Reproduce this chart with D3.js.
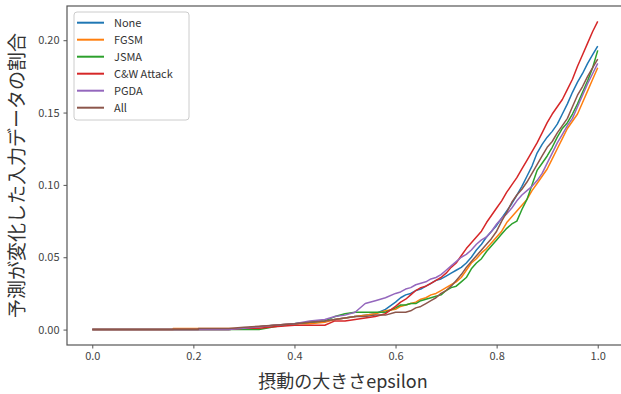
<!DOCTYPE html>
<html>
<head>
<meta charset="utf-8">
<script src="https://cdn.jsdelivr.net/npm/d3@7"></script>
<style>
  body { margin: 0; background: #fff; }
  svg { display: block; }
  text { font-family: "Noto Sans CJK JP", "Noto Sans", sans-serif; }
</style>
</head>
<body>
<svg id="chart" width="621" height="394"></svg>
<script>
// epsilon grid shared by all series
const epsilon = [0, 0.16, 0.16, 0.21, 0.21, 0.27, 0.30, 0.33, 0.36, 0.40, 0.43, 0.46, 0.48, 0.50, 0.52, 0.54, 0.56, 0.58,
  0.60, 0.61, 0.62, 0.63, 0.64, 0.65, 0.66, 0.67, 0.68, 0.69,
  0.70, 0.71, 0.72, 0.73, 0.74, 0.75, 0.76, 0.77, 0.78, 0.79,
  0.80, 0.81, 0.82, 0.83, 0.84, 0.85, 0.86, 0.87, 0.88, 0.89,
  0.90, 0.91, 0.92, 0.93, 0.94, 0.95, 0.96, 0.97, 0.98, 0.99, 1.00];

const seriesNames = ['None', 'FGSM', 'JSMA', 'C&W Attack', 'PGDA', 'All'];
const seriesColors = ['#1f77b4', '#ff7f0e', '#2ca02c', '#d62728', '#9467bd', '#8c564b'];

const noneValues = [0, 0, 0, 0, 0, 0, 0.001, 0.002, 0.003, 0.004, 0.005, 0.006, 0.007, 0.008, 0.009, 0.010, 0.011, 0.014,
  0.019, 0.022, 0.024, 0.025, 0.027, 0.028, 0.030, 0.032, 0.034, 0.035,
  0.037, 0.039, 0.041, 0.043, 0.046, 0.050, 0.055, 0.059, 0.064, 0.068,
  0.072, 0.077, 0.082, 0.087, 0.093, 0.099, 0.106, 0.113, 0.122, 0.128,
  0.133, 0.137, 0.142, 0.149, 0.156, 0.164, 0.171, 0.177, 0.184, 0.190, 0.196];

const fgsmValues = [0, 0, 0.0007, 0.0007, 0.0007, 0.0007, 0.001, 0.002, 0.003, 0.004, 0.004, 0.005, 0.007, 0.008, 0.009, 0.010, 0.011, 0.013,
  0.014, 0.016, 0.017, 0.018, 0.019, 0.021, 0.022, 0.024, 0.025, 0.027,
  0.029, 0.031, 0.033, 0.036, 0.041, 0.046, 0.049, 0.053, 0.056, 0.060,
  0.064, 0.068, 0.074, 0.078, 0.082, 0.086, 0.090, 0.096, 0.101, 0.106,
  0.111, 0.118, 0.125, 0.132, 0.139, 0.144, 0.149, 0.157, 0.165, 0.173, 0.181];

const jsmaValues = [0, 0, 0, 0, 0, 0, 0, 0, 0.002, 0.004, 0.005, 0.006, 0.009, 0.011, 0.012, 0.012, 0.012, 0.012,
  0.015, 0.017, 0.017, 0.018, 0.018, 0.020, 0.021, 0.022, 0.023, 0.024,
  0.027, 0.029, 0.030, 0.033, 0.036, 0.042, 0.046, 0.049, 0.054, 0.058,
  0.062, 0.066, 0.070, 0.073, 0.075, 0.083, 0.090, 0.100, 0.110, 0.115,
  0.120, 0.126, 0.133, 0.139, 0.143, 0.149, 0.156, 0.164, 0.172, 0.181, 0.193];

const cwValues = [0, 0, 0, 0, 0, 0, 0.001, 0.001, 0.002, 0.003, 0.003, 0.003, 0.006, 0.006, 0.007, 0.008, 0.009, 0.011,
  0.016, 0.019, 0.021, 0.024, 0.027, 0.029, 0.030, 0.032, 0.034, 0.036,
  0.039, 0.043, 0.046, 0.051, 0.056, 0.060, 0.064, 0.068, 0.074, 0.079,
  0.084, 0.089, 0.095, 0.100, 0.105, 0.111, 0.117, 0.123, 0.129, 0.136,
  0.143, 0.149, 0.154, 0.159, 0.166, 0.173, 0.182, 0.190, 0.198, 0.206, 0.213];

const pgdaValues = [0, 0, 0, 0, 0, 0, 0.001, 0.002, 0.003, 0.004, 0.006, 0.007, 0.009, 0.010, 0.012, 0.018, 0.020, 0.022,
  0.025, 0.026, 0.028, 0.029, 0.031, 0.032, 0.033, 0.035, 0.036, 0.038,
  0.041, 0.044, 0.047, 0.050, 0.052, 0.055, 0.059, 0.062, 0.064, 0.068,
  0.073, 0.077, 0.080, 0.084, 0.089, 0.093, 0.096, 0.099, 0.103, 0.108,
  0.115, 0.122, 0.129, 0.135, 0.141, 0.146, 0.154, 0.162, 0.170, 0.177, 0.184];

const allValues = [0, 0, 0, 0, 0.0007, 0.0007, 0.0016, 0.0023, 0.003, 0.004, 0.005, 0.006, 0.007, 0.008, 0.009, 0.009, 0.010, 0.010,
  0.012, 0.012, 0.012, 0.013, 0.015, 0.016, 0.018, 0.020, 0.022, 0.025,
  0.027, 0.030, 0.034, 0.038, 0.043, 0.047, 0.051, 0.055, 0.059, 0.063,
  0.068, 0.075, 0.081, 0.088, 0.093, 0.097, 0.102, 0.108, 0.114, 0.120,
  0.126, 0.130, 0.136, 0.141, 0.146, 0.154, 0.162, 0.168, 0.175, 0.181, 0.187];

const xTicks = [0.0, 0.2, 0.4, 0.6, 0.8, 1.0];
const yTicks = [0.00, 0.05, 0.10, 0.15, 0.20];
const xLabel = '摂動の大きさepsilon';
const yLabel = '予測が変化した入力データの割合';

const seriesValues = [noneValues, fgsmValues, jsmaValues, cwValues, pgdaValues, allValues];

const margin = { top: 6, left: 67, bottom: 345, right: 623 };
const svg = d3.select('#chart');

const yMax = d3.max(seriesValues, (s) => d3.max(s));
const yPad = 0.05 * yMax;
const xPad = 0.05 * (d3.max(epsilon) - d3.min(epsilon));

const xScale = d3.scaleLinear()
  .domain([d3.min(epsilon) - xPad, d3.max(epsilon) + xPad])
  .range([margin.left, margin.right]);
const yScale = d3.scaleLinear()
  .domain([-yPad, yMax + yPad])
  .range([margin.bottom, margin.top]);

const axisColor = '#555';
const tickTextColor = '#444';

// lines
const line = d3.line()
  .x((d) => xScale(d[0]))
  .y((d) => yScale(d[1]));

const plot = svg.append('g');
seriesValues.forEach((vals, i) => {
  plot.append('path')
    .datum(epsilon.map((e, j) => [e, vals[j]]))
    .attr('fill', 'none')
    .attr('stroke', seriesColors[i])
    .attr('stroke-width', 1.5)
    .attr('stroke-linejoin', 'round')
    .attr('d', line);
});

// axes
const xAxis = d3.axisBottom(xScale).tickValues(xTicks).tickFormat(d3.format('.1f'))
  .tickSizeInner(3.5).tickSizeOuter(0).tickPadding(4);
const yAxis = d3.axisLeft(yScale).tickValues(yTicks).tickFormat(d3.format('.2f'))
  .tickSizeInner(3.5).tickSizeOuter(0).tickPadding(4);

const gx = svg.append('g')
  .attr('transform', `translate(0,${margin.bottom})`)
  .call(xAxis);
const gy = svg.append('g')
  .attr('transform', `translate(${margin.left},0)`)
  .call(yAxis);

[gx, gy].forEach((g) => {
  g.select('.domain').remove();
  g.selectAll('.tick line').attr('stroke', axisColor).attr('stroke-width', 1);
  g.selectAll('.tick text')
    .attr('fill', tickTextColor)
    .style('font-size', '11px');
});

// frame (right side falls outside the window)
svg.append('rect')
  .attr('x', margin.left)
  .attr('y', margin.top)
  .attr('width', margin.right - margin.left)
  .attr('height', margin.bottom - margin.top)
  .attr('fill', 'none')
  .attr('stroke', axisColor)
  .attr('stroke-width', 1.2);

// axis labels
svg.append('text')
  .attr('x', (margin.left + margin.right) / 2 - 2)
  .attr('y', 388)
  .attr('text-anchor', 'middle')
  .attr('fill', '#333')
  .style('font-size', '18px')
  .text(xLabel);

svg.append('text')
  .attr('transform', `translate(24,${(margin.top + margin.bottom) / 2}) rotate(-90)`)
  .attr('text-anchor', 'middle')
  .attr('fill', '#333')
  .style('font-size', '19px')
  .text(yLabel);

// legend
const legend = svg.append('g').attr('transform', 'translate(74,12)');
legend.append('rect')
  .attr('width', 115)
  .attr('height', 108)
  .attr('rx', 3)
  .attr('fill', '#fff')
  .attr('fill-opacity', 0.8)
  .attr('stroke', '#ccc');

seriesNames.forEach((name, i) => {
  const yPos = 10.7 + i * 17;
  legend.append('line')
    .attr('x1', 3)
    .attr('x2', 30)
    .attr('y1', yPos)
    .attr('y2', yPos)
    .attr('stroke', seriesColors[i])
    .attr('stroke-width', 2);
  legend.append('text')
    .attr('x', 40)
    .attr('y', yPos)
    .attr('dy', '0.35em')
    .attr('fill', '#333')
    .style('font-size', '11px')
    .text(name);
});
</script>
</body>
</html>
